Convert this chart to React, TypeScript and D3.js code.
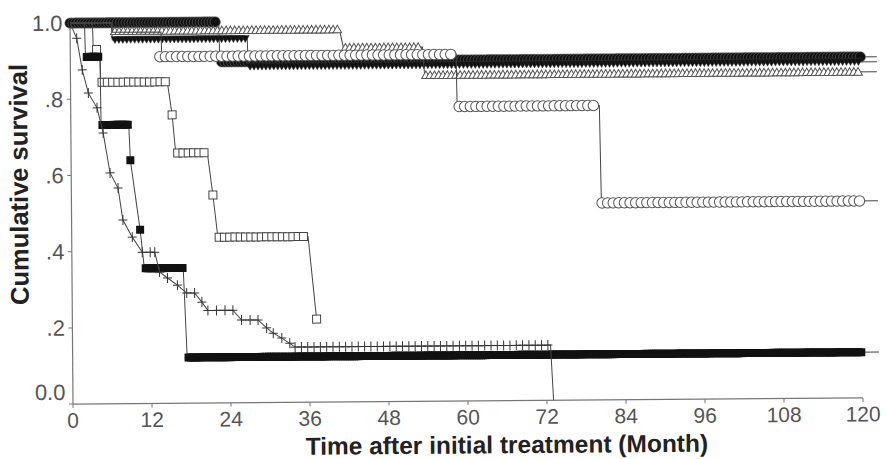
import React from "react";
import * as d3 from "d3";

const W = 886;
const H = 459;

const xTicks = [0, 12, 24, 36, 48, 60, 72, 84, 96, 108, 120];
const yTicks = [0, 0.2, 0.4, 0.6, 0.8, 1.0];
const yTickLabels = ["0.0", ".2", ".4", ".6", ".8", "1.0"];
const xTitle = "Time after initial treatment (Month)";
const yTitle = "Cumulative survival";

type Pt = [number, number];
// [from month, to month, spacing in months, survival]
type Run = [number, number, number, number];

// Filled circles
const filledCircleCurve: Pt[] = [[0, 1], [22.6, 1], [22.7, 0.895], [122.5, 0.895]];
const filledCircleRuns: Run[] = [[0, 22.4, 0.45, 1], [23, 120, 0.5, 0.895]];
const filledCircleSingles: Pt[] = [];

// Filled triangles (down)
const filledTriCurve: Pt[] = [[0, 1], [6.3, 1], [6.4, 0.955], [26.9, 0.955], [27.0, 0.882], [122.5, 0.882]];
const filledTriRuns: Run[] = [[6.8, 26.6, 0.6, 0.955], [27.3, 120, 0.6, 0.882]];
const filledTriSingles: Pt[] = [];

// Open triangles
const openTriCurve: Pt[] = [[0, 1], [6.3, 1], [6.4, 0.978], [40.9, 0.978], [41.5, 0.93], [53.5, 0.93], [53.8, 0.856], [122.5, 0.856]];
const openTriRuns: Run[] = [[6.8, 40.6, 0.65, 0.978], [41.8, 53.3, 0.65, 0.93], [54, 120, 0.65, 0.856]];
const openTriSingles: Pt[] = [];

// Open circles
const openCircleCurve: Pt[] = [[0, 1], [6.3, 1], [6.4, 0.975], [13.8, 0.975], [13.9, 0.91], [58.6, 0.91], [58.7, 0.773], [80.3, 0.773], [80.5, 0.517], [122.5, 0.517]];
const openCircleRuns: Run[] = [[13.6, 58.4, 0.85, 0.91], [59, 80.2, 0.85, 0.773], [80.6, 120.3, 0.85, 0.517]];
const openCircleSingles: Pt[] = [];

// Open squares
const openSqCurve: Pt[] = [[0, 1], [3.4, 1], [3.5, 0.93], [4.5, 0.93], [4.6, 0.844], [14.7, 0.844], [15.4, 0.757], [15.9, 0.657], [20.7, 0.657], [21.5, 0.546], [22.2, 0.435], [35.9, 0.435], [37.1, 0.218]];
const openSqRuns: Run[] = [[4.8, 14.5, 0.8, 0.844], [16.2, 20.6, 0.8, 0.657], [22.4, 35.8, 0.8, 0.435]];
const openSqSingles: Pt[] = [[4.0, 0.93], [15.4, 0.757], [21.5, 0.546], [37.1, 0.218]];

// Filled squares
const filledSqCurve: Pt[] = [[0, 1], [2.2, 1], [2.3, 0.911], [4.5, 0.911], [4.6, 0.732], [8.8, 0.732], [9.0, 0.639], [10.4, 0.456], [11.0, 0.355], [16.9, 0.355], [17.4, 0.12], [122.5, 0.12]];
const filledSqRuns: Run[] = [[2.5, 4.4, 0.35, 0.911], [4.8, 8.7, 0.35, 0.732], [11.2, 16.8, 0.35, 0.355], [17.6, 120, 0.35, 0.12]];
const filledSqSingles: Pt[] = [[9.0, 0.639], [10.4, 0.456]];

// Plus
const plusCurve: Pt[] = [[0, 1], [1.0, 0.96], [1.8, 0.877], [2.7, 0.816], [4.0, 0.777], [4.9, 0.711], [5.9, 0.606], [7.1, 0.566], [7.8, 0.482], [9.2, 0.437], [10.7, 0.397], [12.6, 0.397], [13.3, 0.345], [14.5, 0.329], [16.0, 0.31], [17.4, 0.289], [18.6, 0.289], [19.7, 0.265], [20.6, 0.243], [24.4, 0.243], [25.7, 0.217], [28.2, 0.217], [29.5, 0.196], [30.5, 0.182], [31.8, 0.169], [33.0, 0.155], [33.8, 0.145], [72.6, 0.145], [73.0, 0]];
const plusSingles: Pt[] = [[1.0, 0.96], [1.8, 0.877], [2.7, 0.816], [4.0, 0.777], [4.9, 0.711], [5.9, 0.606], [7.1, 0.566], [7.8, 0.482], [9.2, 0.437], [10.7, 0.397], [11.9, 0.397], [12.6, 0.397], [13.3, 0.345], [14.5, 0.329], [16.0, 0.31], [17.4, 0.289], [18.6, 0.289], [19.7, 0.265], [20.6, 0.243], [21.9, 0.243], [23.2, 0.243], [24.4, 0.243], [25.7, 0.217], [27.0, 0.217], [28.2, 0.217], [29.5, 0.196], [30.5, 0.182], [31.8, 0.169], [33.0, 0.155]];
const plusRuns: Run[] = [[33.8, 72.2, 0.96, 0.145]];

const x = d3.scaleLinear().domain([0, 120]).range([71.5, 861.5]);
const y = d3.scaleLinear().domain([0, 1]).range([401, 20]);

const lineGen = d3
  .line<Pt>()
  .x((d) => x(d[0]))
  .y((d) => y(d[1]))
  .curve(d3.curveLinear);

function expand(runs: Run[], singles: Pt[]): Pt[] {
  const pts: Pt[] = [];
  runs.forEach(([a, b, s, v]) => {
    d3.range(a, b + 1e-6, s).forEach((t) => pts.push([t, v]));
  });
  singles.forEach((p) => pts.push(p));
  return pts;
}

type Kind = "filledCircle" | "openCircle" | "openTri" | "filledTri" | "openSq" | "filledSq" | "plus";

function Marker({ kind, cx, cy }: { kind: Kind; cx: number; cy: number }) {
  const t = `translate(${cx},${cy})`;
  switch (kind) {
    case "filledCircle":
      return <circle cx={cx} cy={cy} r={5.2} fill="#111" stroke="#666" strokeWidth={0.6} />;
    case "openCircle":
      return <circle cx={cx} cy={cy} r={5.2} fill="#fff" stroke="#555" strokeWidth={1} />;
    case "openTri":
      return <path transform={t} d="M0,-4.2L4.3,3.4L-4.3,3.4Z" fill="#fff" stroke="#555" strokeWidth={1} />;
    case "filledTri":
      return <path transform={t} d="M-4,-3.4L4,-3.4L0,3.6Z" fill="#111" stroke="#333" strokeWidth={0.5} />;
    case "openSq":
      return <rect x={cx - 4} y={cy - 4} width={8} height={8} fill="#fff" stroke="#444" strokeWidth={1} />;
    case "filledSq":
      return <rect x={cx - 4} y={cy - 4} width={8} height={8} fill="#111" />;
    case "plus":
      return <path transform={t} d="M-4.5,0H4.5M0,-5V5" stroke="#333" strokeWidth={1} fill="none" />;
  }
  return null;
}

const series: { kind: Kind; curve: Pt[]; runs: Run[]; singles: Pt[] }[] = [
  { kind: "filledCircle", curve: filledCircleCurve, runs: filledCircleRuns, singles: filledCircleSingles },
  { kind: "filledTri", curve: filledTriCurve, runs: filledTriRuns, singles: filledTriSingles },
  { kind: "openTri", curve: openTriCurve, runs: openTriRuns, singles: openTriSingles },
  { kind: "openCircle", curve: openCircleCurve, runs: openCircleRuns, singles: openCircleSingles },
  { kind: "openSq", curve: openSqCurve, runs: openSqRuns, singles: openSqSingles },
  { kind: "filledSq", curve: filledSqCurve, runs: filledSqRuns, singles: filledSqSingles },
  { kind: "plus", curve: plusCurve, runs: plusRuns, singles: plusSingles },
];

export default function App() {
  const font = "'Liberation Sans', Arial, sans-serif";
  return (
    <svg
      width={W}
      height={H}
      viewBox={`0 0 ${W} ${H}`}
      style={{ position: "absolute", left: 0, top: 0, background: "#fff" }}
      fontFamily={font}
    >
      <rect width={W} height={H} fill="#fff" />
      <g transform="rotate(-0.45 466 210)">
        {/* axes */}
        <line x1={x(0)} x2={x(0)} y1={y(1)} y2={y(0)} stroke="#777" strokeWidth={1.2} />
        <line x1={x(0)} x2={x(120)} y1={y(0)} y2={y(0)} stroke="#777" strokeWidth={1.2} />
        {yTicks.map((v, i) => (
          <g key={"yt" + i}>
            <line x1={x(0) - 4} x2={x(0)} y1={y(v)} y2={y(v)} stroke="#777" strokeWidth={1} />
            <text
              x={64}
              y={v === 0 ? y(v) - 12 : y(v)}
              dy="0.35em"
              textAnchor="end"
              fontSize={22}
              fill="#555"
            >
              {yTickLabels[i]}
            </text>
          </g>
        ))}
        {xTicks.map((v) => (
          <g key={"xt" + v}>
            <line x1={x(v)} x2={x(v)} y1={y(0)} y2={y(0) + 4} stroke="#777" strokeWidth={1} />
            <text x={x(v)} y={424.5} textAnchor="middle" fontSize={21} fill="#555">
              {v}
            </text>
          </g>
        ))}
        {/* titles */}
        <text x={505} y={453.5} textAnchor="middle" fontSize={24.5} fontWeight="bold" fill="#222">
          {xTitle}
        </text>
        <text
          transform="translate(28,181) rotate(-90)"
          textAnchor="middle"
          fontSize={25.5}
          fontWeight="bold"
          fill="#222"
        >
          {yTitle}
        </text>
        {/* series */}
        {series.map((s, si) => (
          <g key={"s" + si}>
            <path d={lineGen(s.curve) || ""} fill="none" stroke="#444" strokeWidth={1} />
            {expand(s.runs, s.singles).map((p, i) => (
              <Marker key={i} kind={s.kind} cx={x(p[0])} cy={y(p[1])} />
            ))}
          </g>
        ))}
      </g>
    </svg>
  );
}
